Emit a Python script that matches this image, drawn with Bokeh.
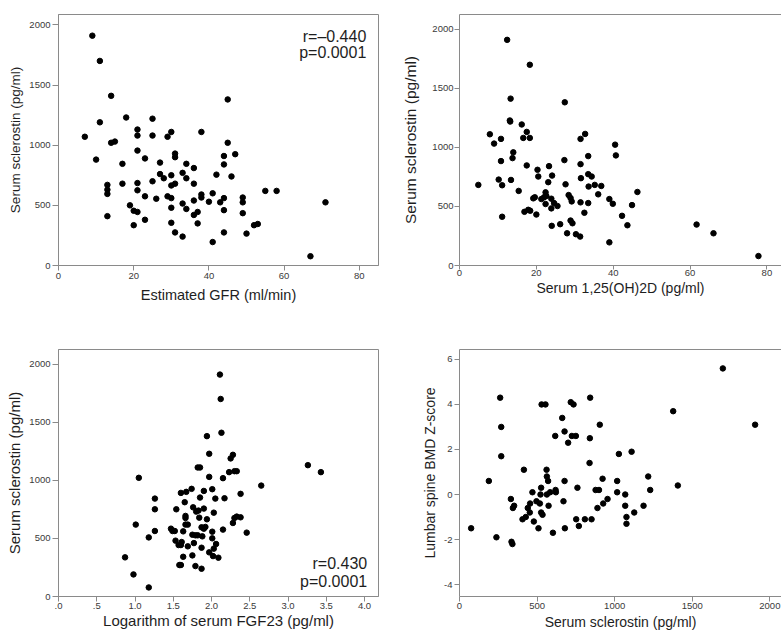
from bokeh.plotting import figure
from bokeh.layouts import row, column
from bokeh.models import FixedTicker, LinearAxis, Label
from bokeh.embed import file_html
from bokeh.resources import INLINE

# ---------------- data ----------------
# Panel A: eGFR vs sclerostin
gfr = [9, 11, 14, 11, 7, 14, 15, 10, 18, 17,
       17, 13, 13, 13, 13, 19, 20, 21, 20, 21,
       21, 21, 21, 21, 23, 23, 23, 25, 25, 25,
       26, 27, 27, 28, 29, 29, 30, 30, 30, 30,
       30, 30, 31, 31, 31, 31, 33, 33, 33, 34,
       34, 34, 36, 36, 36, 36, 37, 37, 38, 38,
       38, 40, 41, 41, 42, 43, 45, 45, 44, 44,
       47, 46, 44, 44, 44, 49, 49, 49, 50, 52,
       53, 55, 58, 71, 67]
scl_gfr = [1910, 1700, 1410, 1190, 1070, 1020, 1030, 880, 1230, 845,
           680, 670, 630, 595, 410, 500, 455, 445, 335, 1130,
           1080, 955, 685, 625, 890, 575, 380, 1220, 1080, 700,
           555, 855, 760, 725, 1070, 575, 1110, 750, 665, 560,
           480, 355, 930, 900, 680, 275, 770, 515, 240, 845,
           725, 470, 810, 680, 540, 420, 445, 350, 1110, 590,
           565, 530, 600, 195, 755, 525, 1380, 1020, 910, 840,
           925, 740, 560, 460, 275, 565, 525, 435, 265, 335,
           345, 620, 620, 525, 77]

# Panel B: 1,25(OH)2D vs sclerostin
vitd = [12.4, 18.3, 13.3, 13.1, 13.2, 27.4, 7.9, 9.0, 10.8, 16.2,
        17.5, 16.6, 18.3, 10.8, 14.0, 13.8, 17.5, 4.9, 10.2, 11.1,
        13.4, 15.4, 11.1, 16.9, 17.9, 18.4, 20.0, 20.3, 20.5, 19.2,
        19.6, 21.3, 22.0, 22.4, 22.6, 22.4, 23.1, 23.3, 24.1, 23.9,
        23.9, 24.6, 25.5, 24.0, 26.2, 27.3, 27.6, 28.4, 28.9, 29.2,
        28.9, 29.4, 28.0, 30.3, 31.4, 31.5, 32.7, 31.5, 33.5, 31.6,
        33.5, 34.4, 31.5, 32.5, 33.6, 33.5, 35.2, 36.9, 36.1, 39.0,
        39.9, 39.0, 40.5, 40.7, 46.3, 44.9, 42.3, 43.7, 61.7, 66.1,
        77.8]
scl_vitd = [1912, 1701, 1414, 1229, 1220, 1383, 1112, 1033, 1073, 1195,
            1132, 1081, 1081, 885, 959, 910, 848, 683, 728, 680,
            725, 632, 413, 455, 472, 464, 432, 811, 754, 569,
            578, 563, 578, 620, 589, 521, 706, 842, 762, 566,
            484, 529, 504, 336, 350, 893, 688, 597, 572, 543,
            381, 358, 273, 265, 245, 1073, 1115, 859, 927, 740,
            774, 754, 535, 447, 669, 529, 683, 674, 603, 563,
            523, 196, 1024, 933, 623, 512, 421, 341, 347, 273,
            80]

# Panel C: log FGF23 vs sclerostin
logfgf = [1.94, 1.97, 1.82, 1.85, 1.97, 1.05, 1.26, 1.26, 1.01, 1.26,
          1.18, 0.87, 0.98, 1.18, 1.60, 1.67, 1.74, 1.65, 1.54, 1.76,
          1.80, 1.83, 1.90, 1.85, 1.90, 2.01, 1.66, 1.66, 1.84, 1.94,
          1.66, 1.69, 2.03, 1.47, 1.49, 1.52, 1.63, 1.87, 1.90, 1.92,
          1.75, 1.79, 1.82, 1.88, 2.01, 2.01, 1.77, 1.53, 1.57, 1.60,
          1.61, 1.69, 1.87, 2.03, 1.97, 1.63, 1.75, 1.58, 1.60, 1.79,
          1.87, 2.11, 2.12, 2.13, 2.25, 2.28, 3.26, 3.43, 2.23, 2.30,
          2.33, 2.15, 2.65, 2.38, 2.05, 2.17, 2.30, 2.33, 2.38, 2.28,
          2.15, 2.46, 2.06, 2.02, 2.09]
scl_fgf = [1381, 1229, 1111, 1111, 1030, 1022, 843, 751, 619, 564,
           509, 337, 190, 78, 892, 901, 927, 812, 751, 768,
           731, 740, 757, 852, 909, 924, 694, 676, 679, 665,
           619, 619, 722, 584, 564, 564, 561, 596, 584, 599,
           532, 527, 527, 518, 558, 501, 460, 481, 443, 443,
           469, 432, 420, 412, 380, 342, 354, 271, 271, 262,
           239, 1911, 1701, 1410, 1189, 1220, 1131, 1071, 1071, 1079,
           1079, 1019, 955, 884, 843, 846, 676, 688, 682, 633,
           576, 550, 452, 348, 334]

# Panel D: sclerostin vs lumbar spine BMD Z-score
scl_bmd = [75, 238, 335, 341, 262, 269, 269, 189, 415, 331,
           344, 352, 406, 427, 440, 455, 470, 453, 479, 496,
           509, 522, 518, 526, 526, 535, 561, 563, 571, 563,
           574, 584, 619, 621, 529, 554, 617, 662, 677, 700,
           724, 750, 717, 735, 677, 670, 602, 679, 760, 752,
           769, 808, 851, 842, 840, 838, 904, 922, 877, 899,
           954, 926, 889, 1697, 1377, 1905, 1027, 1109, 1016, 1016,
           1068, 1068, 1076, 1076, 1126, 1186, 1216, 1229, 1407]
zscore = [-1.5, -1.9, -2.1, -2.2, 4.3, 3.0, 1.7, 0.6, 1.1, -0.2,
          -0.6, -0.5, -1.1, -1.0, -0.6, -0.4, 0.1, -0.8, -1.2, -0.3,
          -1.5, 0.0, -0.4, 0.3, -0.8, -0.9, 1.1, 0.8, 0.6, 0.0,
          -0.5, 0.1, 0.2, 0.1, 4.0, 4.0, 2.6, 3.4, 2.8, 2.3,
          2.6, 2.6, 4.1, 4.0, 0.6, -0.3, -1.7, -1.5, 0.3, -1.1,
          -1.4, -1.1, -1.1, 4.3, 2.5, 1.4, 3.1, 0.7, 0.2, 0.2,
          -0.2, -0.4, -0.6, 5.6, 3.7, 3.1, 1.8, 1.9, 0.6, 0.1,
          0.0, -0.5, -1.0, -1.3, -0.8, -0.5, 0.8, 0.2, 0.4]

# tick values and labels
ticks_0_80 = [0, 20, 40, 60, 80]
labels_0_80 = ["0", "20", "40", "60", "80"]
ticks_scl = [0, 500, 1000, 1500, 2000]
labels_scl = ["0", "500", "1000", "1500", "2000"]
ticks_fgf = [0.0, 0.5, 1.0, 1.5, 2.0, 2.5, 3.0, 3.5, 4.0]
labels_fgf = [".0", ".5", "1.0", "1.5", "2.0", "2.5", "3.0", "3.5", "4.0"]
ticks_z = [-4, -2, 0, 2, 4, 6]
labels_z = ["-4", "-2", "0", "2", "4", "6"]

FONT = "Liberation Sans"
GRAY = "#8a8a8a"
TICKC = "#3a3a3a"
TEXTC = "#1e1e1e"


def style_axis(ax, ticks, labels, tick_out, label_standoff, axis_label, label_size, axis_standoff):
    ax.ticker = FixedTicker(ticks=ticks)
    ax.major_label_overrides = {float(t): l for t, l in zip(ticks, labels)}
    ax.axis_line_color = GRAY
    ax.major_tick_line_color = GRAY
    ax.major_tick_out = tick_out
    ax.major_tick_in = 0
    ax.minor_tick_line_color = None
    ax.major_label_text_font = FONT
    ax.major_label_text_font_size = "9.5px"
    ax.major_label_text_color = TICKC
    ax.major_label_standoff = label_standoff
    ax.axis_label = axis_label
    ax.axis_label_text_font = FONT
    ax.axis_label_text_font_style = "normal"
    ax.axis_label_text_font_size = label_size
    ax.axis_label_text_color = TEXTC
    ax.axis_label_standoff = axis_standoff


def panel(width, height, x_end, y_rng, borders, outline):
    bl, br, bt, bb = borders
    p = figure(width=width, height=height, x_range=(0, x_end), y_range=y_rng,
               output_backend="svg", toolbar_location=None,
               min_border_left=bl, min_border_right=br,
               min_border_top=bt, min_border_bottom=bb)
    p.xgrid.visible = False
    p.ygrid.visible = False
    p.background_fill_color = "white"
    p.border_fill_color = "white"
    if outline:
        p.outline_line_color = GRAY
        p.outline_line_width = 1
    else:
        p.outline_line_color = None
        top = LinearAxis(ticker=FixedTicker(ticks=[]), axis_line_color=GRAY,
                         major_tick_line_color=None, minor_tick_line_color=None,
                         major_tick_out=0, major_tick_in=0,
                         major_label_standoff=0, axis_label_standoff=0)
        p.add_layout(top, "above")
    return p


# Panel A
p1 = panel(398, 308, 85.1, (0, 2086), (58, 20, 14, 43), True)
style_axis(p1.below[0], ticks_0_80, labels_0_80, 5, 2, "Estimated GFR (ml/min)", "14.5px", 5)
style_axis(p1.left[0], ticks_scl, labels_scl, 6, 2, "Serum sclerostin (pg/ml)", "13.5px", 3)
p1.scatter(gfr, scl_gfr, size=5.5, color="black")
p1.add_layout(Label(x=81.86, y=1903, text="r=\u20130.440", text_align="right",
                    text_baseline="alphabetic", text_font=FONT, text_font_size="16px",
                    text_color=TEXTC))
p1.add_layout(Label(x=81.86, y=1770, text="p=0.0001", text_align="right",
                    text_baseline="alphabetic", text_font=FONT, text_font_size="16px",
                    text_color=TEXTC))

# Panel B
p2 = panel(383, 308, 83.8, (0, 2127), (61, 0, 14, 43), False)
style_axis(p2.below[0], ticks_0_80, labels_0_80, 4, 0, "Serum 1,25(OH)2D (pg/ml)", "14px", 1)
style_axis(p2.left[0], ticks_scl, labels_scl, 5, 1, "Serum sclerostin (pg/ml)", "15.5px", 10)
p2.scatter(vitd, scl_vitd, size=5.5, color="black")

# Panel C
p3 = panel(398, 326, 4.183, (0, 2127), (58, 20, 41, 38), True)
style_axis(p3.below[0], ticks_fgf, labels_fgf, 5, 1, "Logarithm of serum FGF23 (pg/ml)", "15px", 0)
style_axis(p3.left[0], ticks_scl, labels_scl, 6, 2, "Serum sclerostin (pg/ml)", "15px", 3)
p3.scatter(logfgf, scl_fgf, size=5.5, color="black")
p3.add_layout(Label(x=4.035, y=284, text="r=0.430", text_align="right",
                    text_baseline="alphabetic", text_font=FONT, text_font_size="16px",
                    text_color=TEXTC))
p3.add_layout(Label(x=4.035, y=125, text="p=0.0001", text_align="right",
                    text_baseline="alphabetic", text_font=FONT, text_font_size="16px",
                    text_color=TEXTC))

# Panel D
p4 = panel(383, 326, 2075, (-4.53, 6.44), (61, 0, 41, 38), False)
style_axis(p4.below[0], [0, 500, 1000, 1500, 2000], labels_scl, 5, 1, "Serum sclerostin (pg/ml)", "14px", 2)
style_axis(p4.left[0], ticks_z, labels_z, 5, 2, "Lumbar spine BMD Z-score", "14px", 3)
p4.scatter(scl_bmd, zscore, size=5.5, color="black")

layout = column(row(p1, p2), row(p3, p4))

open("out.html", "w").write(file_html(layout, INLINE))
